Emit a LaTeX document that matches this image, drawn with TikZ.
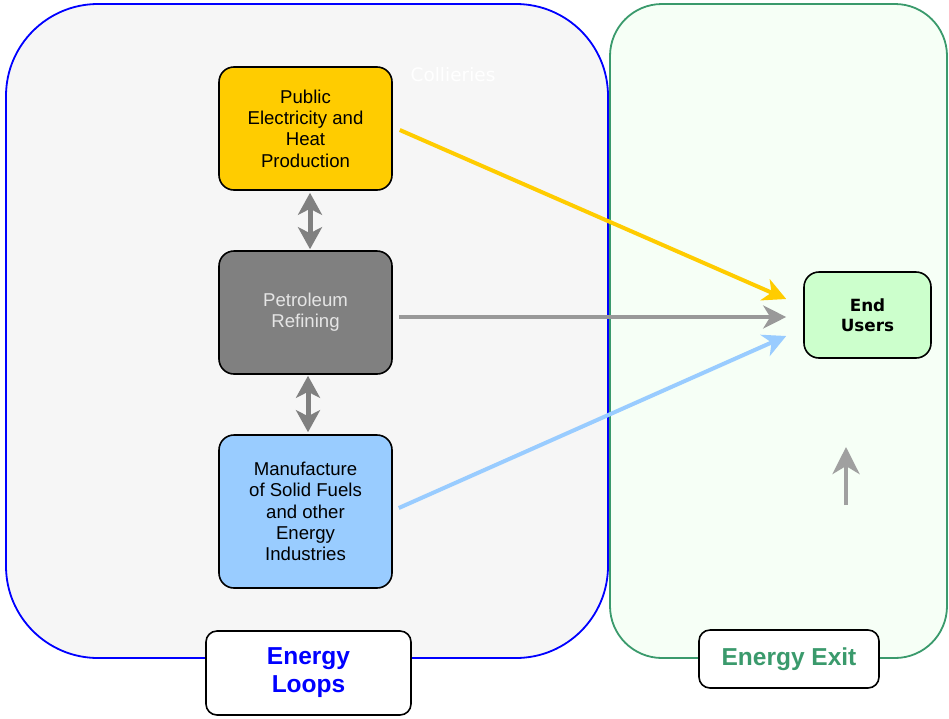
\documentclass[tikz,border=0pt]{standalone}
\usepackage{fontspec}
\setmainfont{Liberation Sans}
\newfontfamily\djv{DejaVu Sans}
\usetikzlibrary{arrows.meta}
\definecolor{loopblue}{HTML}{0000FF}
\definecolor{exitgreen}{HTML}{3A9A6C}
\definecolor{loopfill}{HTML}{F6F6F6}
\definecolor{exitfill}{HTML}{F6FFF6}
\definecolor{gold}{HTML}{FFCC00}
\definecolor{darkgrey}{HTML}{808080}
\definecolor{lightblue}{HTML}{99CCFF}
\definecolor{mintgreen}{HTML}{CCFFCC}
\definecolor{linegrey}{HTML}{999999}
\definecolor{uparrow}{HTML}{A0A0A0}
\tikzset{
  procbox/.style={draw=black, line width=1.6pt, rounded corners=15pt, align=center,
    inner sep=2pt, font=\fontsize{18.6}{21.3}\selectfont},
  labelbox/.style={draw=black, line width=1.6pt, fill=white, rounded corners=11pt, align=center,
    font=\fontsize{24.5}{28}\selectfont\bfseries},
  flow/.style={line width=4pt, -{Stealth[length=23pt,width=23pt,inset=7pt]}},
  dbl/.style={draw=darkgrey, line width=5pt,
    {Stealth[length=22pt,width=24pt,inset=6pt]}-{Stealth[length=22pt,width=24pt,inset=6pt]}},
}
\begin{document}
\begin{tikzpicture}[x=1pt,y=-1pt]
\useasboundingbox (0,0) rectangle (949,718);
% containers
\draw[draw=loopblue, fill=loopfill, line width=1.8pt, rounded corners=92pt]
  (6,4) rectangle (608,658);
\draw[draw=exitgreen, fill=exitfill, line width=1.8pt, rounded corners=52pt]
  (610,4) rectangle (947,658);
% nodes
\node[procbox, fill=gold, minimum width=173pt, minimum height=123pt] (pub) at (305.5,128.5)
  {Public\\Electricity and\\Heat\\Production};
\node[procbox, fill=darkgrey, text=black!10, minimum width=173pt, minimum height=123pt] (pet) at (305.5,312.5)
  {Petroleum\\Refining};
\node[procbox, fill=lightblue, minimum width=173pt, minimum height=153pt] (man) at (305.5,511.5)
  {Manufacture\\of Solid Fuels\\and other\\Energy\\Industries};
\node[procbox, fill=mintgreen, minimum width=127pt, minimum height=86pt,
  font=\djv\fontsize{16.8}{20.5}\selectfont\bfseries] (end) at (867.5,315) {End\\Users};
\node[text=white, font=\djv\fontsize{18.5}{20}\selectfont] (coll) at (453,75) {Collieries};
\node[labelbox, text=loopblue, minimum width=205pt, minimum height=84pt] (loops) at (308.5,673)
  {Energy\\Loops};
\node[labelbox, text=exitgreen, minimum width=180pt, minimum height=58pt] (exit) at (789,659)
  {Energy Exit};
% connector end points
\coordinate (ty) at ([xshift=-17pt,yshift=16pt]end.west);
\coordinate (tg) at ([xshift=-17pt,yshift=-2pt]end.west);
\coordinate (tb) at ([xshift=-17pt,yshift=-21pt]end.west);
\coordinate (ub) at (846,505);
\coordinate (ut) at (846,447);
% connectors
\draw[flow, draw=gold] ([xshift=7pt,yshift=-1.5pt]pub.east) -- (ty);
\draw[flow, draw=linegrey] ([xshift=6pt,yshift=-4.5pt]pet.east) -- (tg);
\draw[flow, draw=lightblue] ([xshift=6pt,yshift=3.5pt]man.east) -- (tb);
\draw[dbl] ([xshift=4.5pt,yshift=-2pt]pub.south) -- ([xshift=4.5pt,yshift=1pt]pet.north);
\draw[dbl] ([xshift=2.5pt,yshift=-1pt]pet.south) -- ([xshift=2.5pt,yshift=2pt]man.north);
\draw[draw=uparrow, line width=4.5pt, -{Stealth[length=27pt,width=27pt,inset=8pt]}] (ub) -- (ut);
\end{tikzpicture}
\end{document}
